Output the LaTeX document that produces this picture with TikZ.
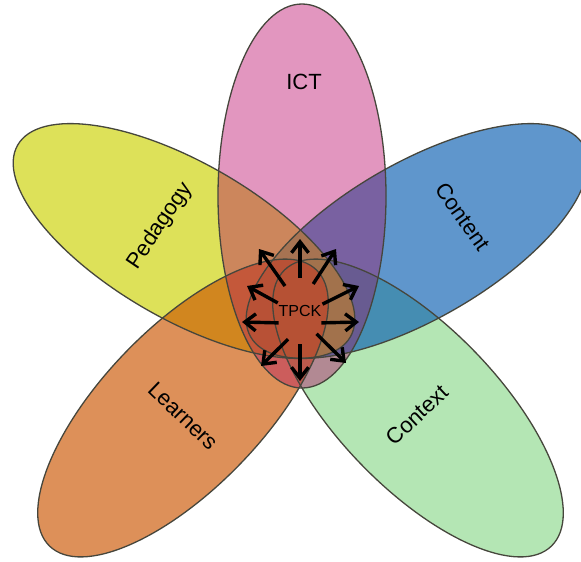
\documentclass[tikz,border=0pt]{standalone}
\usepackage{fontspec}
\setmainfont{Liberation Sans}
\usetikzlibrary{shapes.geometric, arrows.meta}
\definecolor{ictpink}{RGB}{214,94,158}
\definecolor{ictshade}{RGB}{239,186,217}
\definecolor{pedyellow}{RGB}{204,209,0}
\definecolor{conblue}{RGB}{10,94,178}
\definecolor{learnorange}{RGB}{204,86,0}
\definecolor{ctxgreen}{RGB}{140,217,140}
\definecolor{rimgray}{RGB}{70,70,60}
\newcommand\petal[5]{\fill[fill=#5, fill opacity=0.65, rotate around={#3:(#1,#2)}] (#1,#2) ellipse [x radius=192, y radius=#4];}
\newcommand\petalrim[4]{\draw[rimgray, line width=1.3pt, rotate around={#3:(#1,#2)}] (#1,#2) ellipse [x radius=192, y radius=#4];}

\begin{document}
\begin{tikzpicture}[x=1pt, y=-1pt, font=\fontsize{22}{26}\selectfont,
	tpckarrow/.style={-{Straight Barb[length=11pt, width=17pt]}, line width=3.4pt, black}]
	\fill[white, use as bounding box] (0,0) rectangle (581,562);
	\petal{418}{408}{-46}{80}{ctxgreen}
	\petal{417}{241}{30}{78}{conblue}
	\petal{184}{241}{-30}{78}{pedyellow}
	\petal{183}{408}{46}{80}{learnorange}
	\fill[ictpink, fill opacity=0.3] (302,196) ellipse [x radius=84, y radius=192];
	\fill[ictshade, blend mode=multiply] (302,196) ellipse [x radius=84, y radius=192];
	\petalrim{418}{408}{-46}{80}
	\petalrim{417}{241}{30}{78}
	\petalrim{184}{241}{-30}{78}
	\petalrim{183}{408}{46}{80}
	\petalrim{302}{196}{90}{84}
	\node (ict) at (304,82) {ICT};
	\node[rotate=56] (pedagogy) at (160,226) {Pedagogy};
	\node[rotate=-55] (content) at (463,217) {Content};
	\node[rotate=-44] (learners) at (183,416) {Learners};
	\node[rotate=43] (context) at (417,415) {Context};
	\node[ellipse, minimum width=46, minimum height=66, inner sep=0pt, outer sep=0pt, font=\fontsize{16}{19}\selectfont] (tpck) at (300,311) {\makebox[0pt]{TPCK}};
	\foreach \n/\a/\x/\y in {1/90/300/239, 2/121/259/249, 3/64/336/249, 4/160/247/286, 5/209/242/322, 6/247/261/366, 7/270/300/381, 8/306/346/363, 9/331/359/322, 10/17/359/286}
	{\coordinate (tip\n) at (\x,\y);
	\draw[tpckarrow] (tpck.\a) -- (tip\n);}
\end{tikzpicture}
\end{document}
